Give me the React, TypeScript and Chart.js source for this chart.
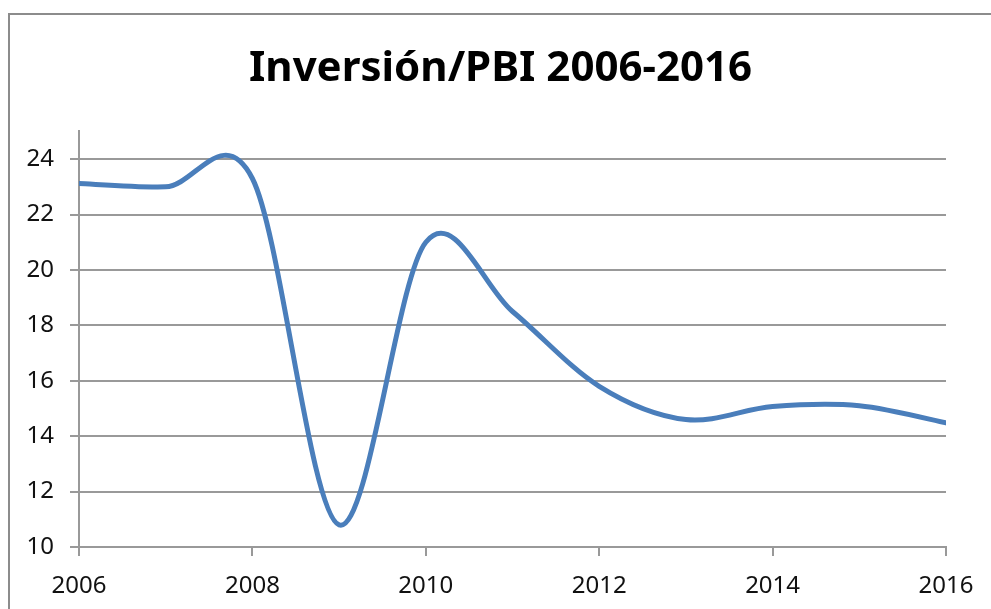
import React, { useEffect, useRef } from 'react';
import { Chart, registerables } from 'chart.js';

Chart.register(...registerables);

const titleText = 'Inversión/PBI 2006-2016';
const years = [2006, 2007, 2008, 2009, 2010, 2011, 2012, 2013, 2014, 2015, 2016];
const inversionPBI = [23.12, 23.0, 23.3, 10.8, 21.0, 18.5, 15.8, 14.6, 15.07, 15.1, 14.48];
const yTickValues = [10, 12, 14, 16, 18, 20, 22, 24];
const xTickValues = [2006, 2008, 2010, 2012, 2014, 2016];

const gridColor = '#999999';
const lineColor = '#4a7ebb';
const tickFont = { family: 'Noto Sans', size: 24 };

// Excel-style smoothing: Catmull-Rom control points (1/6) from the pixel
// positions the library computed for each point.
const excelSmooth = {
  id: 'excelSmooth',
  beforeDatasetDraw(chart: any, args: any) {
    const meta = args.meta;
    const line = meta.dataset;
    if (!line) return;
    line.updateControlPoints(chart.chartArea, meta.iScale.axis);
    const pts = meta.data;
    const n = pts.length;
    for (let i = 0; i < n; i++) {
      const p = pts[i];
      const prev = pts[Math.max(0, i - 1)];
      const next = pts[Math.min(n - 1, i + 1)];
      const dx = (next.x - prev.x) / 6;
      const dy = (next.y - prev.y) / 6;
      p.cp1x = p.x - dx;
      p.cp1y = p.y - dy;
      p.cp2x = p.x + dx;
      p.cp2y = p.y + dy;
    }
    line._path = undefined;
  },
};

export default function App() {
  const canvasRef = useRef<HTMLCanvasElement | null>(null);

  useEffect(() => {
    if (!canvasRef.current) return;
    const chart = new Chart(canvasRef.current, {
      type: 'line',
      data: {
        datasets: [
          {
            label: titleText,
            data: years.map((x, i) => ({ x, y: inversionPBI[i] })),
            borderColor: lineColor,
            backgroundColor: lineColor,
            borderWidth: 5,
            pointRadius: 0,
            pointHoverRadius: 0,
            tension: 0.4,
            fill: false,
            borderCapStyle: 'round',
            borderJoinStyle: 'round',
            yAxisID: 'y',
          },
        ],
      },
      options: {
        responsive: false,
        animation: false,
        events: [],
        layout: { padding: { left: 10, right: 0, top: 0, bottom: 0 } },
        plugins: {
          legend: { display: false },
          tooltip: { enabled: false },
          title: {
            display: true,
            text: titleText,
            color: '#000000',
            font: { family: 'Noto Sans', size: 42, weight: 'bold' },
            padding: { top: 44, bottom: 37 },
          },
        },
        scales: {
          x: {
            type: 'linear',
            min: 2006,
            max: 2016,
            afterBuildTicks: (s: any) => {
              s.ticks = xTickValues.map((v) => ({ value: v }));
            },
            afterFit: (s: any) => {
              s.height = 62;
            },
            ticks: {
              callback: (v: any) => String(v),
              font: tickFont,
              color: '#111111',
              padding: 16,
              maxRotation: 0,
              autoSkip: false,
            },
            grid: {
              drawOnChartArea: false,
              drawTicks: true,
              tickLength: 9,
              color: gridColor,
              lineWidth: 2,
            },
            border: { color: gridColor, width: 2 },
          },
          y: {
            type: 'linear',
            position: 'left',
            min: 10,
            max: 25,
            afterBuildTicks: (s: any) => {
              s.ticks = yTickValues.map((v) => ({ value: v }));
            },
            afterFit: (s: any) => {
              s.width = 69;
            },
            ticks: {
              font: tickFont,
              color: '#111111',
              padding: 16,
              autoSkip: false,
            },
            grid: {
              drawTicks: true,
              tickLength: 9,
              color: gridColor,
              lineWidth: 2,
            },
            border: { color: gridColor, width: 2 },
          },
          spacer: {
            type: 'linear',
            position: 'right',
            display: true,
            min: 10,
            max: 25,
            afterFit: (s: any) => {
              s.width = 45;
            },
            ticks: { display: false },
            grid: { display: false, drawTicks: false },
            border: { display: false },
          },
        },
      },
      plugins: [excelSmooth],
    } as any);
    return () => chart.destroy();
  }, []);

  return (
    <div
      style={{
        position: 'absolute',
        left: 0,
        top: 0,
        width: 991,
        height: 609,
        overflow: 'hidden',
        background: '#ffffff',
      }}
    >
      <div
        style={{
          position: 'absolute',
          left: 8,
          top: 13,
          width: 1100,
          height: 800,
          borderTop: '2px solid #8c8c8c',
          borderLeft: '2px solid #8c8c8c',
        }}
      />
      <canvas
        ref={canvasRef}
        width={991}
        height={609}
        style={{ position: 'absolute', left: 0, top: 0, width: 991, height: 609 }}
      />
    </div>
  );
}
